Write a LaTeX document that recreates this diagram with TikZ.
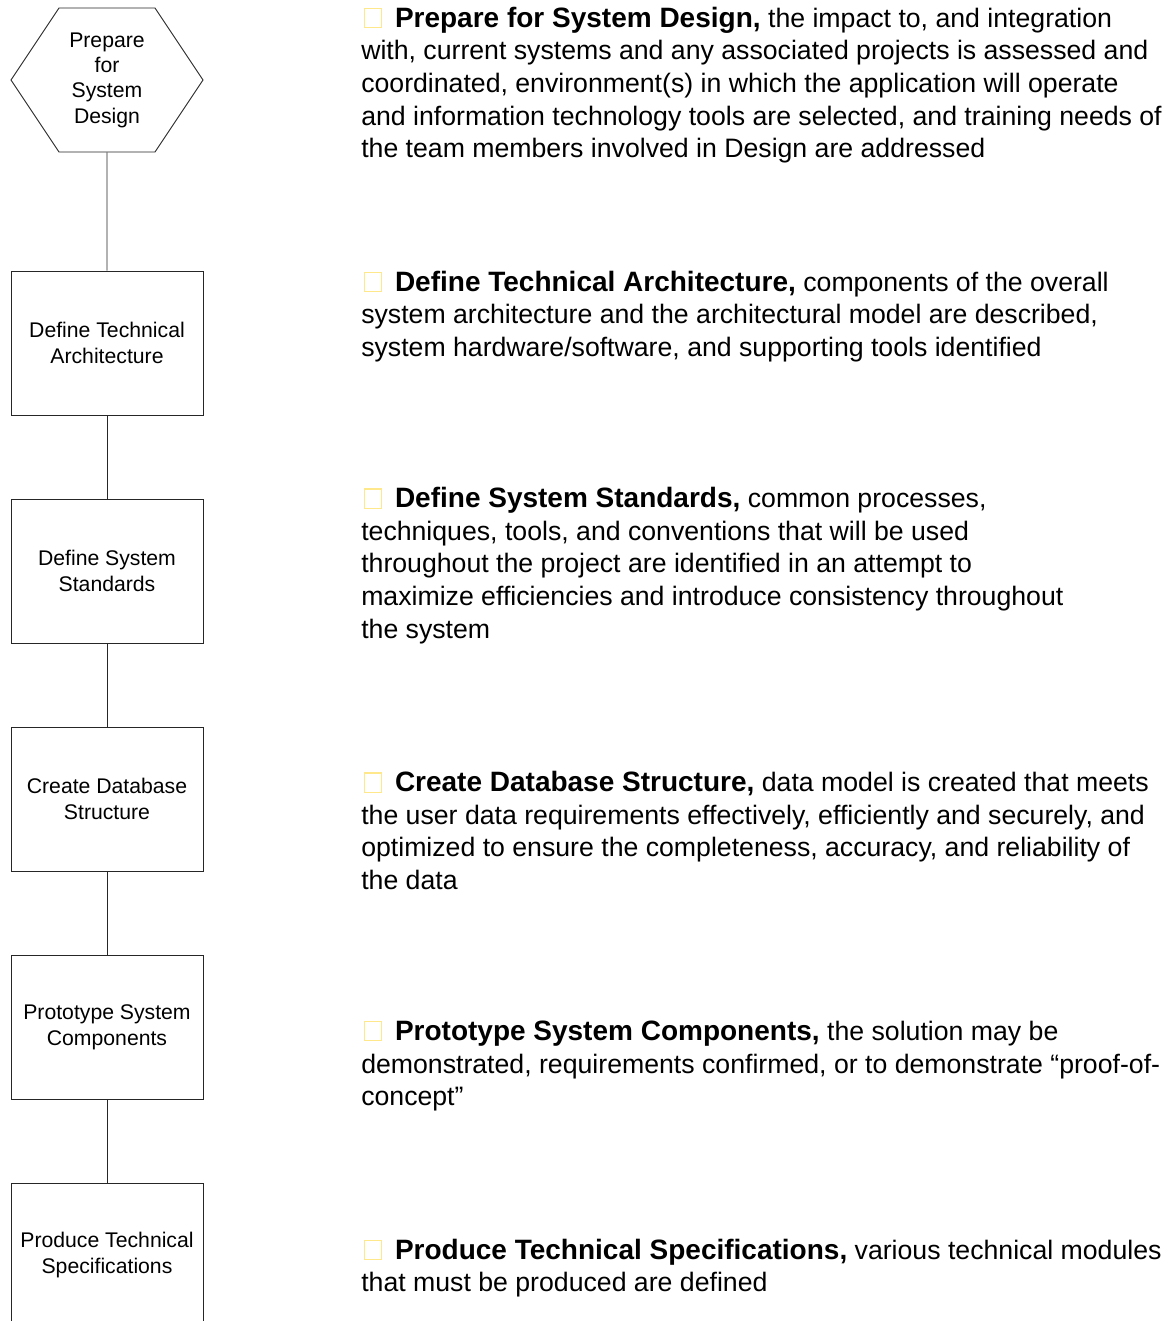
\documentclass[tikz,border=0pt]{standalone}
\usepackage{fontspec}
\setmainfont{Liberation Sans}
\usepackage{xcolor}
\usetikzlibrary{shapes.symbols}

\definecolor{markyellow}{RGB}{255,232,140}
\newcommand{\sqmark}{\hspace{2.2pt}{\setlength{\fboxsep}{0pt}\setlength{\fboxrule}{0.8pt}\fcolorbox{markyellow}{white}{\rule{0pt}{13.5pt}\rule{12pt}{0pt}}}\hspace{9.5pt}}
\newcommand{\stitle}[1]{{\fontsize{21}{24.5}\selectfont\textbf{#1}}}

\begin{document}
\begin{tikzpicture}[x=7.5pt, y=-7.5pt,
	stepbox/.style={shape=rectangle, draw=black!85, line width=0.7pt, minimum width=144pt, minimum height=108pt, align=center, font=\fontsize{15.9}{19.5}\selectfont},
	stephex/.style={shape=signal, signal to=east and west, signal pointer angle=112.6, draw=black!85, line width=0.7pt, minimum width=144pt, minimum height=108pt, inner sep=0pt, align=center, font=\fontsize{15.9}{19}\selectfont},
	desc/.style={anchor=west, inner sep=0pt, align=left, font=\fontsize{20}{24.5}\selectfont}]
	
	\useasboundingbox (0,0) rectangle (116.8,132.1);
	
	\node[stephex] (prep) at (10.7, 8.0)    {Prepare\\for\\System\\Design};
	
	\node[stepbox] (arch) at (10.7, 34.3)   {Define Technical\\Architecture};
	\node[stepbox] (stds) at (10.7, 57.1)   {Define System\\Standards};
	\node[stepbox] (dbase) at (10.7, 79.9)  {Create Database\\Structure};
	\node[stepbox] (proto) at (10.7, 102.7) {Prototype System\\Components};
	\node[stepbox] (specs) at (10.7, 125.5) {Produce Technical\\Specifications};
	
	\node[desc] (prepdesc) at (36.1, 8.5)  {\sqmark\stitle{Prepare for System Design,} the impact to, and integration\\with, current systems and any associated projects is assessed and\\coordinated, environment(s) in which the application will operate\\and information technology tools are selected, and training needs of\\the team members involved in Design are addressed};
	\node[desc] (archdesc) at (36.1, 31.65)  {\sqmark\stitle{Define Technical Architecture,} components of the overall\\system architecture and the architectural model are described,\\system hardware/software, and supporting tools identified};
	\node[desc] (stdsdesc) at (36.1, 56.55)  {\sqmark\stitle{Define System Standards,} common processes,\\techniques, tools, and conventions that will be used\\throughout the project are identified in an attempt to\\maximize efficiencies and introduce consistency throughout\\the system};
	\node[desc] (dbdesc) at (36.1, 83.05)   {\sqmark\stitle{Create Database Structure,} data model is created that meets\\the user data requirements effectively, efficiently and securely, and\\optimized to ensure the completeness, accuracy, and reliability of\\the data};
	\node[desc] (protodesc) at (36.1, 106.6) {\sqmark\stitle{Prototype System Components,} the solution may be\\demonstrated, requirements confirmed, or to demonstrate “proof-of-\\concept”};
	\node[desc] (specsdesc) at (36.1, 126.8) {\sqmark\stitle{Produce Technical Specifications,} various technical modules\\that must be produced are defined};
	
	\path[draw=black!85, line width=0.7pt] (prep) edge (arch);
	\path[draw=black!85, line width=0.7pt] (arch) edge (stds);
	\path[draw=black!85, line width=0.7pt] (stds) edge (dbase);
	\path[draw=black!85, line width=0.7pt] (dbase) edge (proto);
	\path[draw=black!85, line width=0.7pt] (proto) edge (specs);
	
\end{tikzpicture}
\end{document}
